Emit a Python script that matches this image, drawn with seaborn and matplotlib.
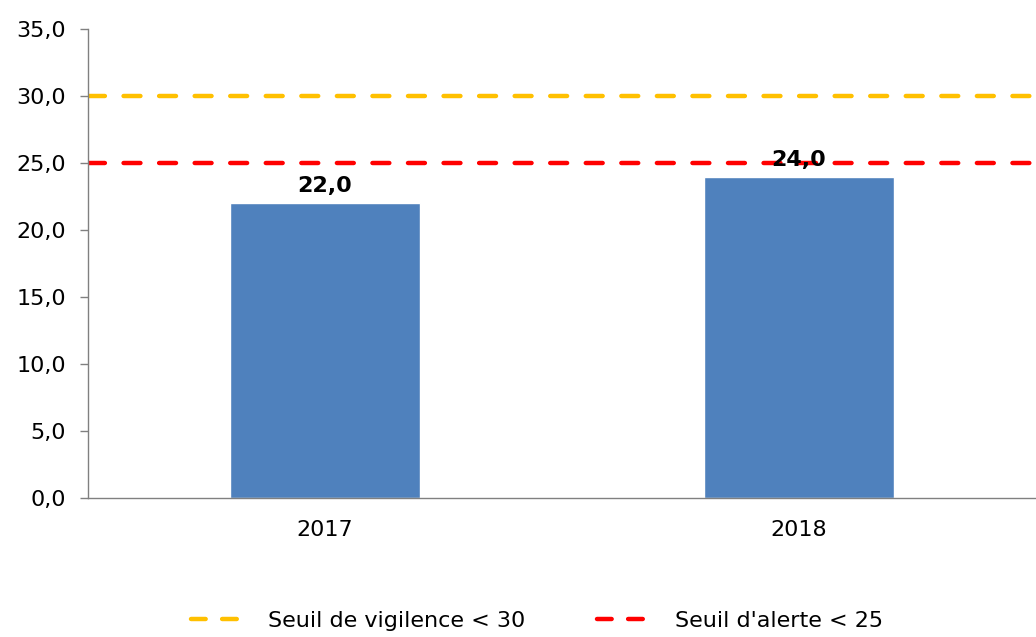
import matplotlib
matplotlib.use('Agg')
import matplotlib.pyplot as plt
import seaborn as sns
import pandas as pd
from matplotlib.lines import Line2D

# données
annees = ['2017', '2018']
valeurs = [22.0, 24.0]
seuil_vigilence = 30
seuil_alerte = 25
legende = ['Seuil de vigilence < 30', "Seuil d'alerte < 25"]

df = pd.DataFrame({'annee': annees, 'valeur': valeurs})

sns.set_style('white')
plt.rcParams['font.family'] = ['DejaVu Sans']
plt.rcParams['text.color'] = 'black'
plt.rcParams['xtick.labelcolor'] = 'black'
plt.rcParams['ytick.labelcolor'] = 'black'

fig = plt.figure(figsize=(10.36, 6.37), dpi=100)
ax = fig.add_axes([0.085, 0.218, 0.915, 0.736])

sns.barplot(data=df, x='annee', y='valeur', color='#4F81BD', width=0.4,
            saturation=1, ax=ax)

# seuils
ax.axhline(seuil_vigilence, color='#FFC000', lw=3.2, dashes=(3.8, 4.2),
           dash_capstyle='round')
ax.axhline(seuil_alerte, color='#FF0000', lw=3.2, dashes=(3.8, 4.2),
           dash_capstyle='round')

ax.bar_label(ax.containers[0], labels=[f'{v:.1f}'.replace('.', ',') for v in valeurs],
             padding=5, fontsize=16, fontweight='bold', color='black')

ax.set_ylim(0, 35)
ax.set_xlim(-0.5, 1.5)
ax.set_yticks(range(0, 36, 5))
ax.set_yticklabels([f'{v:.1f}'.replace('.', ',') for v in range(0, 36, 5)], fontsize=16)
ax.set_xticks([0, 1])
ax.set_xticklabels(annees, fontsize=16)
ax.set_xticks([-0.5, 0.5, 1.5], minor=True)
ax.tick_params(axis='x', which='major', length=0, pad=16)
ax.tick_params(axis='x', which='minor', length=6, color='#808080', width=1)
ax.tick_params(axis='y', length=6, color='#808080', width=1, pad=10, left=True)
ax.set_xlabel('')
ax.set_ylabel('')

sns.despine(ax=ax, top=True, right=True)
for s in ['left', 'bottom']:
    ax.spines[s].set_color('#808080')
    ax.spines[s].set_linewidth(1)

handles = [Line2D([0], [0], color='#FFC000', lw=3.2, dashes=(3.3, 3.7), dash_capstyle='round'),
           Line2D([0], [0], color='#FF0000', lw=3.2, dashes=(3.3, 3.7), dash_capstyle='round')]
fig.legend(handles, legende, loc='lower center', bbox_to_anchor=(0.518, -0.022), ncol=2,
           frameon=False, fontsize=16, handlelength=2.6, handletextpad=0.9,
           columnspacing=3.2)

fig.savefig('out.png', dpi=100)
